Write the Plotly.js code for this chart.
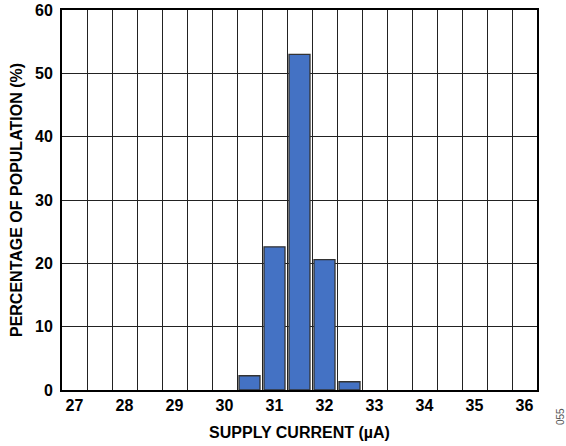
<!DOCTYPE html>
<html><head><meta charset="utf-8">
<script src="https://cdn.plot.ly/plotly-3.0.1.min.js"></script>
<style>html,body{margin:0;padding:0;background:#fff;}#c{width:566px;height:446px;}</style>
</head><body><div id="c"></div>
<script>
const currents = [30.5, 31, 31.5, 32, 32.5];
const percentages = [2.25, 22.6, 53.0, 20.6, 1.3];
const xTickVals = [27, 28, 29, 30, 31, 32, 33, 34, 35, 36];
const xTickText = ['27','28','29','30','31','32','33','34','35','36'];
const yTickVals = [0, 10, 20, 30, 40, 50, 60];

const font = {family: 'Liberation Sans, Arial, sans-serif', color: '#000'};
const trace = {
  type: 'bar', x: currents, y: percentages, width: 0.42,
  marker: {color: '#4472C4', line: {color: '#333', width: 1.3}},
  hoverinfo: 'none'
};
const layout = {
  width: 566, height: 446,
  margin: {l: 62, r: 29, t: 10, b: 56},
  paper_bgcolor: '#fff', plot_bgcolor: '#fff',
  showlegend: false,
  xaxis: {
    range: [26.75, 36.25], tickmode: 'array', tickvals: xTickVals, ticktext: xTickText,
    showgrid: false, zeroline: false, ticks: '',
    minor: {tick0: 26.75, dtick: 0.5, showgrid: true, gridcolor: '#222', gridwidth: 1, ticks: ''},
    showline: true, linecolor: '#000', linewidth: 2, mirror: true,
    tickfont: Object.assign({size: 16}, font, {weight: 'bold'}),
    title: {text: '<b>SUPPLY CURRENT (µA)</b>', font: Object.assign({size: 16}, font), standoff: 14}
  },
  yaxis: {
    range: [0, 60], tickmode: 'array', tickvals: yTickVals,
    showgrid: true, gridcolor: '#222', gridwidth: 1, zeroline: false, ticks: '',
    showline: true, linecolor: '#000', linewidth: 2, mirror: true, ticklabelstandoff: 4,
    tickfont: Object.assign({size: 16}, font, {weight: 'bold'}),
    title: {text: '<b>PERCENTAGE OF POPULATION (%)</b>', font: Object.assign({size: 16}, font), standoff: 8}
  },
  annotations: [{
    text: '055', xref: 'paper', yref: 'paper', x: 1.0, y: 0, xanchor: 'left', yanchor: 'top',
    xshift: 16, yshift: -16, textangle: -90, showarrow: false,
    font: {family: 'Liberation Sans, Arial, sans-serif', size: 10, color: '#555'}
  }]
};
Plotly.newPlot('c', [trace], layout, {staticPlot: true, displayModeBar: false});
</script></body></html>
